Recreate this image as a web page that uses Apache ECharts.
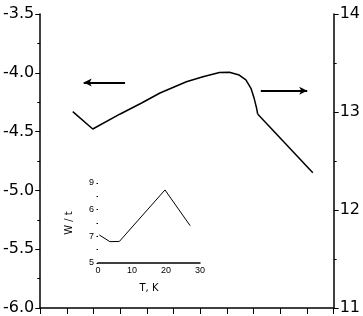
<!DOCTYPE html>
<html>
<head>
<meta charset="utf-8">
<script src="https://cdn.jsdelivr.net/npm/echarts@6/dist/echarts.min.js"></script>
<style>
  html, body { margin: 0; padding: 0; background: #fff; }
  #chart { width: 363px; height: 316px; }
</style>
</head>
<body>
<div id="chart"></div>
<script>
// main curve, left part (left axis) and right part (right axis)
let leftX = [1.22, 1.97, 3.00, 3.80, 4.49, 5.48, 6.10, 6.72, 7.09, 7.46, 7.71, 7.90, 8.02, 8.11, 8.15];
let leftY = [-4.33, -4.478, -4.35, -4.257, -4.172, -4.076, -4.033, -3.997, -3.996, -4.019, -4.061, -4.132, -4.217, -4.299, -4.35];
let rightX = [8.15, 10.22];
let rightY = [12.98, 12.381];

// arrows: [x from, x to, y]
let leftArrow = [3.18, 1.63, -4.082];
let rightArrow = [8.27, 10.01, 13.217];

// inset
let insetT = [0.4, 3.5, 6.3, 19.7, 27.1];
let insetW = [1.05, 0.80, 0.81, 2.74, 1.40];
let insetYLabels = ['5', '7', '6', '9'];

function pairs(xs, ys) {
    let arr = [];
    for (let i = 0; i < xs.length; i++) arr.push([xs[i], ys[i]]);
    return arr;
}

let font = 'DejaVu Sans';
let chart = echarts.init(document.getElementById('chart'));

let option = {
    animation: false,
    backgroundColor: '#fff',
    grid: [
        { left: 40, right: 28, top: 14, bottom: 8 },
        { left: 98, right: 163, top: 183, bottom: 53 }
    ],
    xAxis: [
        {
            gridIndex: 0, type: 'value', min: 0, max: 11, interval: 1,
            axisLine: { lineStyle: { color: '#000', width: 1.5 } },
            axisTick: { length: 6, lineStyle: { color: '#000' } },
            axisLabel: { show: false },
            splitLine: { show: false }
        },
        {
            gridIndex: 1, type: 'value', min: 0, max: 30, interval: 10,
            name: 'T, K', nameLocation: 'middle', nameGap: 20,
            nameTextStyle: { fontFamily: font, fontSize: 10, color: '#000' },
            axisLine: { lineStyle: { color: '#000', width: 1.5 } },
            axisTick: { show: false },
            axisLabel: { fontFamily: 'Liberation Sans', fontSize: 9, color: '#000', margin: 3 },
            splitLine: { show: false }
        }
    ],
    yAxis: [
        {
            gridIndex: 0, type: 'value', min: -6, max: -3.5, interval: 0.5,
            axisLine: { show: true, lineStyle: { color: '#000', width: 1.5 } },
            axisTick: { length: 5, lineStyle: { color: '#000' } },
            minorTick: { show: true, splitNumber: 2, length: 3, lineStyle: { color: '#000' } },
            axisLabel: {
                fontFamily: font, fontSize: 16, color: '#000', margin: 6,
                formatter: v => v.toFixed(1)
            },
            splitLine: { show: false }
        },
        {
            gridIndex: 0, type: 'value', min: 11, max: 14, interval: 1, position: 'right',
            axisLine: { show: true, lineStyle: { color: '#000', width: 1.5 } },
            axisTick: { length: 5, lineStyle: { color: '#000' } },
            minorTick: { show: true, splitNumber: 2, length: 3, lineStyle: { color: '#000' } },
            axisLabel: { fontFamily: font, fontSize: 16, color: '#000', margin: 6 },
            splitLine: { show: false }
        },
        {
            gridIndex: 1, type: 'value', min: 0, max: 3, interval: 1,
            name: 'W / t', nameLocation: 'middle', nameGap: 24,
            nameTextStyle: { fontFamily: font, fontSize: 10, color: '#000' },
            axisLine: { show: false },
            axisTick: { show: true, length: 1.5, lineStyle: { color: '#000' } },
            minorTick: { show: true, splitNumber: 2, length: 1.5, lineStyle: { color: '#000' } },
            axisLabel: {
                fontFamily: 'Liberation Sans', fontSize: 9, color: '#000', margin: 4,
                formatter: v => insetYLabels[Math.round(v)]
            },
            splitLine: { show: false }
        }
    ],
    series: [
        {
            type: 'line', xAxisIndex: 0, yAxisIndex: 0,
            data: pairs(leftX, leftY),
            showSymbol: false,
            lineStyle: { color: '#000', width: 1.5 },
            markLine: {
                silent: true,
                symbol: ['none', 'arrow'],
                symbolSize: [6, 8],
                label: { show: false },
                lineStyle: { color: '#000', width: 2, type: 'solid' },
                data: [[
                    { coord: [leftArrow[0], leftArrow[2]] },
                    { coord: [leftArrow[1], leftArrow[2]] }
                ]]
            }
        },
        {
            type: 'line', xAxisIndex: 0, yAxisIndex: 1,
            data: pairs(rightX, rightY),
            showSymbol: false,
            lineStyle: { color: '#000', width: 1.5 },
            markLine: {
                silent: true,
                symbol: ['none', 'arrow'],
                symbolSize: [6, 8],
                label: { show: false },
                lineStyle: { color: '#000', width: 2, type: 'solid' },
                data: [[
                    { coord: [rightArrow[0], rightArrow[2]] },
                    { coord: [rightArrow[1], rightArrow[2]] }
                ]]
            }
        },
        {
            type: 'line', xAxisIndex: 1, yAxisIndex: 2,
            data: pairs(insetT, insetW),
            showSymbol: false,
            lineStyle: { color: '#000', width: 1 }
        }
    ]
};

chart.setOption(option);
</script>
</body>
</html>
